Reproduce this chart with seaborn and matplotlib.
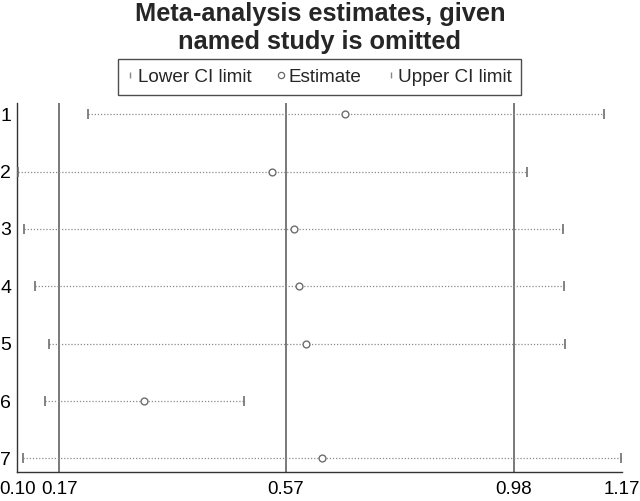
import pandas as pd
import seaborn as sns
import matplotlib.pyplot as plt
from matplotlib.lines import Line2D

# Dados
estudos = ['1', '2', '3', '4', '5', '6', '7']
limite_inferior = [0.225, 0.101, 0.112, 0.131, 0.156, 0.149, 0.111]
estimativa = [0.680, 0.551, 0.589, 0.599, 0.611, 0.324, 0.639]
limite_superior = [1.139, 1.002, 1.066, 1.068, 1.070, 0.501, 1.169]

# Linhas de referência (IC inferior, estimativa, IC superior globais)
linhas_ref = [0.174, 0.5755, 0.979]
rotulos_x = ['0.10', '0.17', '0.57', '0.98', '1.17']
x_min, x_max = 0.10, 1.17

df = pd.DataFrame({
    'Estudo': estudos,
    'pos': range(1, len(estudos) + 1),
    'Lower': limite_inferior,
    'Estimate': estimativa,
    'Upper': limite_superior,
})

sns.set_style('white')
plt.rcParams['font.family'] = ['Liberation Sans', 'DejaVu Sans']

fig = plt.figure(figsize=(6.4, 5.01), dpi=100)
ax = fig.add_axes([0.027, 0.0585, 0.9444, 0.7365])

cinza = '#6e6e6e'

# Linhas verticais de referência
for v in linhas_ref:
    ax.axvline(v, color='#555555', lw=1.1, zorder=1)

# Linhas pontilhadas entre os limites
ax.hlines(df['pos'], df['Lower'], df['Upper'], colors='#8a8a8a',
          linestyles=(0, (1, 1.5)), lw=0.9, zorder=2)

# Limites inferior e superior
sns.scatterplot(data=df, x='Lower', y='pos', marker='|', s=50, color=cinza,
                linewidth=1.2, ax=ax, zorder=3, legend=False)
sns.scatterplot(data=df, x='Upper', y='pos', marker='|', s=50, color=cinza,
                linewidth=1.2, ax=ax, zorder=3, legend=False)

# Estimativas
sns.scatterplot(data=df, x='Estimate', y='pos', marker='o', s=24,
                facecolor='white', edgecolor=cinza, linewidth=1.0,
                ax=ax, zorder=4, legend=False)

ax.set_xlim(x_min, x_max)
ax.set_ylim(7.23, 0.8)
ax.set_xticks([x_min] + linhas_ref + [x_max])
ax.set_xticklabels(rotulos_x)
ax.set_yticks(df['pos'])
ax.set_yticklabels(df['Estudo'])
ax.tick_params(axis='x', length=0, pad=7, labelsize=13.5, colors='black')
ax.tick_params(axis='y', length=0, pad=4.5, labelsize=14, colors='black')
ax.set_xlabel('')
ax.set_ylabel('')

for lado in ['top', 'right']:
    ax.spines[lado].set_visible(False)
for lado in ['left', 'bottom']:
    ax.spines[lado].set_color('#333333')
    ax.spines[lado].set_linewidth(1.0)

# Título
fig.suptitle('Meta-analysis estimates, given\nnamed study is omitted',
             x=0.5, y=0.997, va='top', fontsize=18.3, fontweight='bold',
             linespacing=1.22)

# Legenda
handles = [
    Line2D([], [], marker='|', ls='none', color='#888888', markersize=5, markeredgewidth=1),
    Line2D([], [], marker='o', ls='none', markerfacecolor='white', markeredgecolor='#666666',
           markersize=4.5, markeredgewidth=0.9),
    Line2D([], [], marker='|', ls='none', color='#888888', markersize=5, markeredgewidth=1),
]
leg = fig.legend(handles, ['Lower CI limit', 'Estimate', 'Upper CI limit'],
                 loc='upper center', bbox_to_anchor=(0.4995, 1 - 59 / 501), ncol=3,
                 fontsize=13.6, frameon=True, fancybox=False, handlelength=0.3,
                 handletextpad=0.25, columnspacing=1.4, borderpad=0.5,
                 borderaxespad=0)
leg.get_frame().set_edgecolor('#222222')
leg.get_frame().set_linewidth(1.0)

fig.savefig('out.png', dpi=100)
